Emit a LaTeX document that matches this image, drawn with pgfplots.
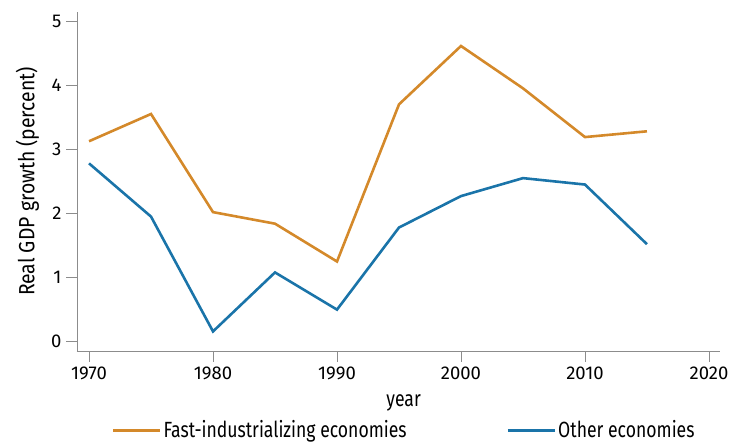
\documentclass[border=0pt]{standalone}
\usepackage{pgfplots}
\pgfplotsset{compat=1.18}
\usepackage{fontspec}
\setmainfont{Fira Sans}[FakeStretch=0.8]
\newfontfamily\tickfont{Fira Sans}
\newfontfamily\ylfont{Fira Sans}[FakeStretch=0.88]
\definecolor{orng}{HTML}{D4892A}
\definecolor{blu}{HTML}{1A74A9}
\definecolor{axgray}{HTML}{8C8C8C}
\begin{document}
\fontsize{22}{26}\selectfont
\begin{tikzpicture}
\begin{axis}[
  scale only axis, width=643pt, height=339pt,
  xmin=1969.03, xmax=2020.89, ymin=-0.145, ymax=5.14,
  axis x line*=bottom, axis y line*=left,
  axis line style={axgray, line width=0.8pt},
  xtick={1970,1980,...,2020}, ytick={0,1,...,5},
  tick align=outside, major tick length=11pt,
  tick style={axgray, line width=0.8pt},
  /pgf/number format/assume math mode=true,
  xticklabel style={/pgf/number format/1000 sep={}, font=\tickfont\fontsize{18.5}{22}\selectfont, inner xsep=1pt, yshift=2.5pt},
  yticklabel style={font=\tickfont\fontsize{18.5}{22}\selectfont, xshift=3pt},
  xlabel={year}, ylabel={Real GDP growth (percent)},
  xlabel style={at={(axis description cs:0.508,-0.152)}, anchor=center, font=\fontsize{22}{26}\selectfont},
  ylabel style={at={(axis description cs:-0.077,0.5)}, anchor=center, rotate=0, font=\ylfont\fontsize{22}{26}\selectfont},
  legend style={at={(axis description cs:0.509,-0.234)}, anchor=center, draw=none, legend columns=2,
    font=\fontsize{22}{26}\selectfont,
    /tikz/every even column/.append style={column sep=98pt}},
  legend cell align=left,
  legend image code/.code={\draw[#1] (0pt,0pt) -- (47pt,0pt);},
]
\addplot[orng, line width=2.6pt, mark=none] coordinates {
(1970,3.125) (1975,3.55) (1980,2.02) (1985,1.84) (1990,1.25)
(1995,3.70) (2000,4.61) (2005,3.95) (2010,3.19) (2015,3.28)};
\addlegendentry{Fast-industrializing economies}
\addplot[blu, line width=2.6pt, mark=none] coordinates {
(1970,2.78) (1975,1.95) (1980,0.16) (1985,1.08) (1990,0.50)
(1995,1.78) (2000,2.27) (2005,2.55) (2010,2.45) (2015,1.52)};
\addlegendentry{Other economies}
\end{axis}
\pgfresetboundingbox
\path[use as bounding box] ([shift={(-77pt,-93pt)}]current axis.south west) rectangle ([shift={(9pt,12pt)}]current axis.north east);
\end{tikzpicture}
\end{document}
